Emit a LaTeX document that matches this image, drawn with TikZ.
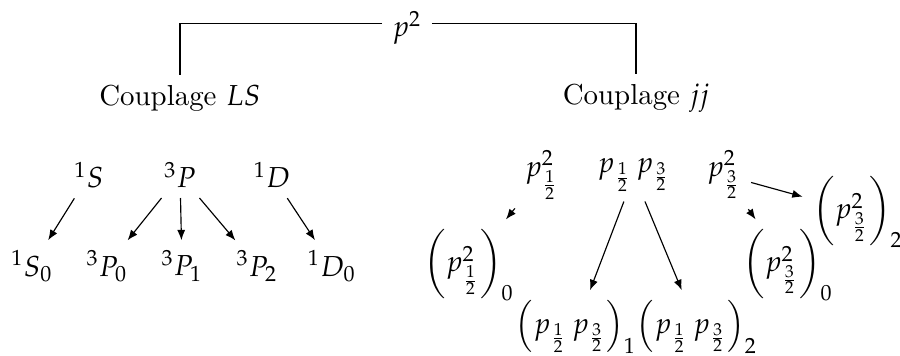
\documentclass[tikz,border=0pt]{standalone}
\usepackage{amsmath}
\usepackage{mathpazo}
\usetikzlibrary{arrows.meta}
\newcommand{\ph}[1]{p_{\frac{#1}{2}}}
\newcommand{\pp}[1]{p^2_{\frac{#1}{2}}}

\begin{document}
\begin{tikzpicture}[x=0.346pt, y=0.346pt,
    term/.style={inner sep=3.33pt},
    arr/.style={-{Latex[length=3.6pt,width=2.8pt]}}]
  \useasboundingbox (0,0) rectangle (900,356);
  % top and the two couplings
  \node[term] (top) at (407,328) {$p^2$};
  \node[term] (LS) at (180,258) {Couplage $LS$};
  \node[term] (jj) at (636,258) {Couplage $jj$};
  \draw ([yshift=1.5pt]top.west) -| (LS.north);
  \draw ([yshift=1.5pt]top.east) -| (jj.north);
  % LS
  \node[term] (S) at (89,181) {${}^1S$};
  \node[term] (P) at (180,181) {${}^3P$};
  \node[term] (D) at (272,181) {${}^1D$};
  \node[term] (S0) at (32,90) {${}^1S_0$};
  \node[term] (P0) at (107,90) {${}^3P_0$};
  \node[term] (P1) at (182,90) {${}^3P_1$};
  \node[term] (P2) at (257,90) {${}^3P_2$};
  \node[term] (D0) at (332,90) {${}^1D_0$};
  % jj
  \node[term] (a) at (542,181) {$\pp1$};
  \node[term] (b) at (634,181) {$\ph1\,\ph3$};
  \node[term] (c) at (724,181) {$\pp3$};
  \node[term] (a0) at (469,91) {$\left(\pp1\right)_0$};
  \node[term] (c0) at (788,91) {$\left(\pp3\right)_0$};
  \node[term] (c2) at (858,144) {$\left(\pp3\right)_2$};
  \node[term] (b1) at (576,29) {$\left(\ph1\,\ph3\right)_1$};
  \node[term] (b2) at (697,29) {$\left(\ph1\,\ph3\right)_2$};
  \foreach \u/\v in {S/S0, P/P0, P/P1, P/P2, D/D0, a/a0, b/b1, b/b2, c/c0, c/c2}
    \draw[arr] (\u) -- (\v);
\end{tikzpicture}
\end{document}
